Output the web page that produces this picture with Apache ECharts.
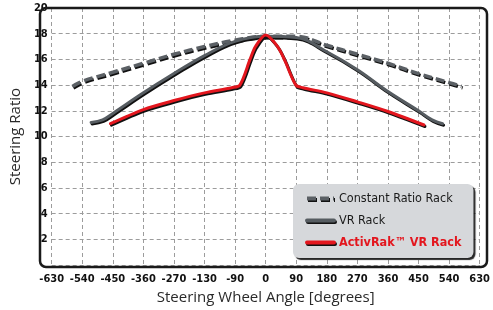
<!DOCTYPE html>
<html>
<head>
<meta charset="utf-8">
<script src="https://cdn.jsdelivr.net/npm/echarts@6/dist/echarts.min.js"></script>
<style>
  html, body { margin: 0; padding: 0; background: #fff; }
  #chart { width: 493px; height: 310px; }
</style>
</head>
<body>
<div id="chart"></div>
<script>
// tick labels as printed on the original (note the "-130")
var xTickLabels = ['-630', '-540', '-450', '-360', '-270', '-130', '-90', '0', '90', '180', '270', '360', '450', '540', '630'];

// Constant Ratio Rack
var constAngle = [-569, -540, -450, -360, -270, -180, -90, 0, 90, 180, 270, 360, 450, 540, 577];
var constRatio = [13.9, 14.3, 15.0, 15.7, 16.4, 17.0, 17.5, 17.8, 17.8, 17.1, 16.4, 15.7, 14.9, 14.2, 13.9];

// VR Rack
var vrAngle = [-514, -480, -450, -360, -270, -180, -90, 0, 90, 180, 270, 360, 450, 490, 521];
var vrRatio = [11.1, 11.3, 11.8, 13.4, 14.9, 16.3, 17.4, 17.8, 17.7, 16.6, 15.2, 13.5, 12.0, 11.3, 11.0];

// ActivRak VR Rack
var activAngle = [-457, -360, -270, -180, -100, -76, -46, -30, 0, 35, 55, 89, 110, 180, 270, 360, 466];
var activRatio = [11.0, 12.1, 12.8, 13.4, 13.8, 14.0, 16.0, 17.0, 17.9, 17.0, 16.0, 14.0, 13.8, 13.4, 12.7, 11.95, 10.9];

var seriesNames = ['Constant Ratio Rack', 'VR Rack', 'ActivRak\u2122 VR Rack'];

function pairs(xs, ys) {
  var out = [];
  for (var i = 0; i < xs.length; i++) out.push([xs[i], ys[i]]);
  return out;
}

var narrow = '"DejaVu Sans Condensed", "Liberation Sans", sans-serif';
var shadow = { shadowColor: '#111', shadowOffsetX: 1, shadowOffsetY: 1.5, shadowBlur: 0 };

var chart = echarts.init(document.getElementById('chart'));

var option = {
  backgroundColor: '#ffffff',
  animation: false,
  grid: { left: 40, right: 6, top: 8, bottom: 43 },
  xAxis: {
    type: 'value',
    min: -630,
    max: 630,
    interval: 90,
    name: 'Steering Wheel Angle [degrees]',
    nameLocation: 'middle',
    nameGap: 23,
    nameTextStyle: { fontFamily: '"Open Sans", sans-serif', fontSize: 15, color: '#2a2a2a' },
    axisLine: { show: false },
    axisTick: { show: false },
    axisLabel: {
      margin: 9,
      fontFamily: narrow,
      fontWeight: 'bold',
      fontSize: 11,
      color: '#111',
      formatter: function (v) { return xTickLabels[Math.round((v + 630) / 90)]; }
    },
    splitLine: { lineStyle: { color: '#9c9c9c', type: [4, 3], width: 1 } }
  },
  yAxis: {
    type: 'value',
    min: 0,
    max: 20,
    interval: 2,
    name: 'Steering Ratio',
    nameLocation: 'middle',
    nameGap: 15,
    nameTextStyle: { fontFamily: '"Open Sans", sans-serif', fontSize: 15, color: '#2a2a2a' },
    axisLine: { show: false },
    axisTick: { show: false },
    axisLabel: {
      margin: 4,
      fontFamily: narrow,
      fontWeight: 'bold',
      fontSize: 11,
      color: '#111',
      formatter: function (v) { return v === 0 ? '' : v; }
    },
    splitLine: { lineStyle: { color: '#9c9c9c', type: [4, 3], width: 1 } }
  },
  legend: {
    orient: 'vertical',
    left: 293,
    top: 184,
    padding: [8, 12, 9, 12],
    itemWidth: 27,
    itemHeight: 14,
    itemGap: 9,
    backgroundColor: '#d6d8db',
    borderRadius: 6,
    shadowColor: 'rgba(0,0,0,0.85)',
    shadowOffsetX: 2,
    shadowOffsetY: 2,
    shadowBlur: 1,
    itemStyle: { opacity: 0 },
    lineStyle: { width: 4, shadowColor: '#111', shadowOffsetX: 1, shadowOffsetY: 1.5, shadowBlur: 0 },
    textStyle: { fontFamily: narrow, fontSize: 12.5, color: '#1a1a1a' },
    data: [
      { name: seriesNames[0] },
      { name: seriesNames[1] },
      { name: seriesNames[2], textStyle: { color: '#e3161e', fontWeight: 'bold' } }
    ]
  },
  graphic: [{
    type: 'rect',
    z: 100,
    silent: true,
    shape: { x: 40, y: 8, width: 447, height: 259, r: 6 },
    style: { fill: 'none', stroke: '#1a1a1a', lineWidth: 2.5 }
  }],
  series: [
    {
      name: seriesNames[0],
      type: 'line',
      symbol: 'none',
      smooth: 0.4,
      z: 3,
      data: pairs(constAngle, constRatio),
      lineStyle: Object.assign({ color: '#5b6065', width: 3.5, type: [9, 4], cap: 'butt' }, shadow),
      itemStyle: { color: '#5b6065' }
    },
    {
      name: seriesNames[1],
      type: 'line',
      symbol: 'none',
      smooth: 0.4,
      z: 4,
      data: pairs(vrAngle, vrRatio),
      lineStyle: Object.assign({ color: '#565c61', width: 3, cap: 'round' }, shadow),
      itemStyle: { color: '#565c61' }
    },
    {
      name: seriesNames[2],
      type: 'line',
      symbol: 'none',
      smooth: 0.3,
      z: 5,
      data: pairs(activAngle, activRatio),
      lineStyle: Object.assign({ color: '#e3161e', width: 3, cap: 'round' }, shadow),
      itemStyle: { color: '#e3161e' }
    }
  ]
};

chart.setOption(option);
</script>
</body>
</html>
